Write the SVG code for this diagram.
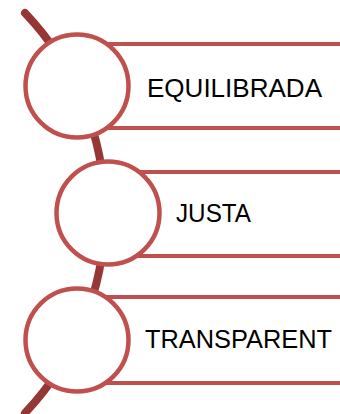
<svg xmlns="http://www.w3.org/2000/svg" width="340" height="414" viewBox="0 0 340 414">
<style>
.spine{fill:none;stroke:#953735;stroke-width:8;stroke-linecap:round}
.bar{stroke:#C0504D;stroke-width:4;fill:none}
.ring{fill:#FFFFFF;stroke:#C0504D;stroke-width:4.5}
.lbl{font-family:"Liberation Sans",Arial,sans-serif;font-size:26.5px;fill:#000000}
</style>
<g id="connectors">
<path class="spine" d="M25,13 A290,290 0 0 1 25,413"/>
</g>
<g id="node1">
<line class="bar" x1="77" y1="44" x2="340" y2="44"/>
<line class="bar" x1="77" y1="128" x2="340" y2="128"/>
<circle class="ring" cx="77" cy="86" r="51.5"/>
<text class="lbl" x="147" y="97" textLength="175" lengthAdjust="spacingAndGlyphs">EQUILIBRADA</text>
</g>
<g id="node2">
<line class="bar" x1="108" y1="172" x2="340" y2="172"/>
<line class="bar" x1="108" y1="256" x2="340" y2="256"/>
<circle class="ring" cx="108" cy="213" r="51.5"/>
<text class="lbl" x="176" y="222" textLength="75" lengthAdjust="spacingAndGlyphs">JUSTA</text>
</g>
<g id="node3">
<line class="bar" x1="77" y1="297" x2="340" y2="297"/>
<line class="bar" x1="77" y1="383" x2="340" y2="383"/>
<circle class="ring" cx="77" cy="340" r="51.5"/>
<text class="lbl" x="145" y="348" textLength="187" lengthAdjust="spacingAndGlyphs">TRANSPARENT</text>
</g>
</svg>
